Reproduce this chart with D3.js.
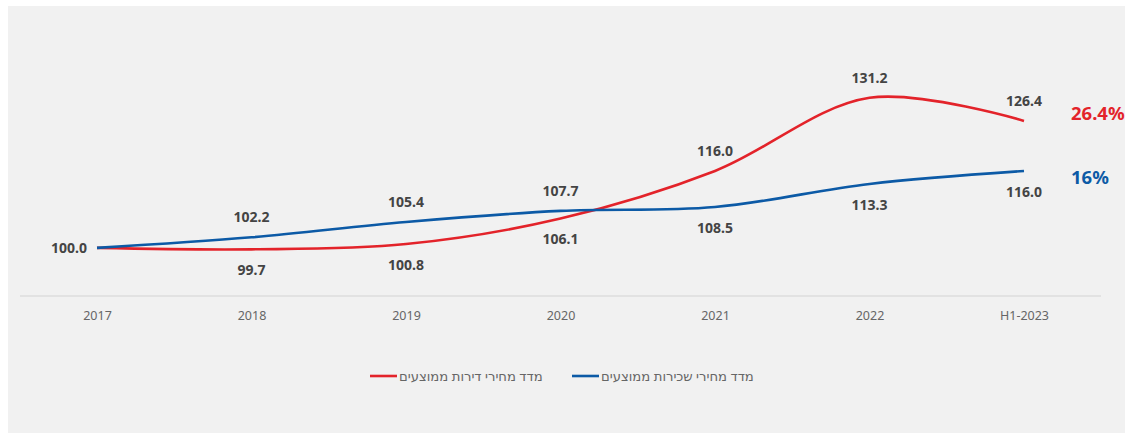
<html>
<head>
  <meta charset="utf-8">
  <style>
    body { margin: 0; background: #fff; }
  </style>
  <script src="https://d3js.org/d3.v7.min.js"></script>
</head>
<body>
  <div id="chart-container"></div>
  <script>
    // x categories
    const years = ["2017", "2018", "2019", "2020", "2021", "2022", "H1-2023"];
    // average apartment price index (red)
    const aptValues = [100.0, 99.7, 100.8, 106.1, 116.0, 131.2, 126.4];
    // average rent price index (blue)
    const rentValues = [100.0, 102.2, 105.4, 107.7, 108.5, 113.3, 116.0];
    const seriesNames = ["מדד מחירי דירות ממוצעים", "מדד מחירי שכירות ממוצעים"];
    const endLabels = ["26.4%", "16%"];

    const red = "#e3232a", blue = "#0c5aa6";
    const font = "'Noto Sans', 'DejaVu Sans', sans-serif";

    const W = 1125, H = 434;
    const svg = d3.select("#chart-container").append("svg")
      .attr("width", W).attr("height", H)
      .style("display", "block");

    // grey panel
    svg.append("rect")
      .attr("x", 8).attr("y", 6)
      .attr("width", W - 8).attr("height", 427)
      .attr("fill", "#f1f1f1");

    const x = d3.scalePoint().domain(years).range([97, 1024]);
    const y = d3.scaleLinear().domain([90, 140]).range([296, 55.5]);

    // baseline
    svg.append("line")
      .attr("x1", 20).attr("x2", 1101)
      .attr("y1", y(90)).attr("y2", y(90))
      .attr("stroke", "#e2e2e2").attr("stroke-width", 2);

    // x axis labels
    const xAxis = d3.axisBottom(x).tickSize(0).tickPadding(15);
    const gx = svg.append("g")
      .attr("transform", `translate(0, ${y(90)})`)
      .call(xAxis);
    gx.select(".domain").remove();
    gx.selectAll("text")
      .attr("fill", "#666")
      .style("font-family", font)
      .style("font-size", "12.5px");

    const line = d3.line()
      .x((d, i) => x(years[i]))
      .y(d => y(d))
      .curve(d3.curveCatmullRom);

    const series = [
      { name: seriesNames[0], values: aptValues, color: red, end: endLabels[0], dy: -7 },
      { name: seriesNames[1], values: rentValues, color: blue, end: endLabels[1], dy: 7 }
    ];

    series.forEach(s => {
      svg.append("path")
        .attr("d", line(s.values))
        .attr("fill", "none")
        .attr("stroke", s.color)
        .attr("stroke-width", 2.6);
    });

    // value labels: higher series above, lower below
    years.forEach((yr, i) => {
      const a = aptValues[i], r = rentValues[i];
      if (i === 0) {
        svg.append("text")
          .attr("x", x(yr) - 10).attr("y", y(a))
          .attr("dy", "0.35em")
          .attr("text-anchor", "end")
          .attr("fill", "#444")
          .style("font-family", font).style("font-size", "14px").style("font-weight", "bold")
          .text(a.toFixed(1));
        return;
      }
      [a, r].forEach((v, k) => {
        const other = k === 0 ? r : a;
        const above = v >= other;
        svg.append("text")
          .attr("x", x(yr)).attr("y", y(v) + (above ? -20 : 21))
          .attr("dy", "0.35em")
          .attr("text-anchor", "middle")
          .attr("fill", "#444")
          .style("font-family", font).style("font-size", "14px").style("font-weight", "bold")
          .text(v.toFixed(1));
      });
    });

    // end percentage labels
    series.forEach(s => {
      const last = s.values[s.values.length - 1];
      svg.append("text")
        .attr("x", 1071).attr("y", y(last) + s.dy)
        .attr("dy", "0.35em")
        .attr("fill", s.color)
        .style("font-family", font).style("font-size", "18.5px").style("font-weight", "bold")
        .text(s.end);
    });

    // legend
    const legendItems = [
      { s: series[0], x0: 370 },
      { s: series[1], x0: 572 }
    ];
    legendItems.forEach(({ s, x0 }) => {
      const g = svg.append("g").attr("transform", `translate(${x0}, 376)`);
      g.append("line")
        .attr("x1", 0).attr("x2", 27)
        .attr("stroke", s.color).attr("stroke-width", 2.6);
      g.append("text")
        .attr("x", 29).attr("dy", "0.35em")
        .attr("fill", "#666")
        .attr("direction", "rtl")
        .attr("text-anchor", "end")
        .style("font-family", font).style("font-size", "13.2px")
        .text(s.name);
    });
  </script>
</body>
</html>
